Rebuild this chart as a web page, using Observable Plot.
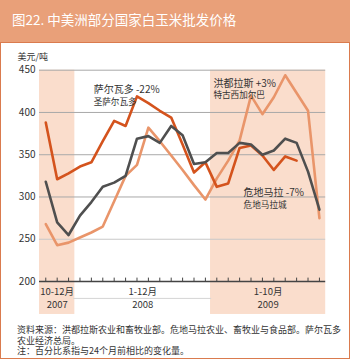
<!DOCTYPE html>
<html>
<head>
<meta charset="utf-8">
<script src="https://cdn.jsdelivr.net/npm/d3@7"></script>
<script src="https://cdn.jsdelivr.net/npm/@observablehq/plot@0.6"></script>
<style>
  html, body { margin: 0; padding: 0; background: #fff; }
  #wrap { position: relative; width: 350px; height: 360px; overflow: hidden; font-family: "Noto Sans CJK SC", "Noto Sans", sans-serif; }
  #hdr { position: absolute; left: 0; top: 0; width: 350px; height: 42px; background: #E9A079; }
  #title { position: absolute; left: 12px; top: 10px; color: #fff; font-size: 13.5px; line-height: 19px; white-space: nowrap; }
  #panel { position: absolute; left: 0; top: 42px; width: 350px; height: 317px; box-sizing: border-box; border: 1.5px solid #DA7B4E; }
  #chart { position: absolute; left: 0; top: 42px; }
  #cap { position: absolute; left: 17px; top: 325px; width: 330px; font-size: 9px; line-height: 10.6px; color: #333; white-space: nowrap; }
</style>
</head>
<body>
<div id="wrap">
  <div id="hdr"><div id="title">图22. 中美洲部分国家白玉米批发价格</div></div>
  <div id="panel"></div>
  <div id="chart"></div>
  <div id="cap">资料来源：洪都拉斯农业和畜牧业部。危地马拉农业、畜牧业与食品部。萨尔瓦多<br>农业经济总局。<br>注：百分比系指与24个月前相比的变化量。</div>
</div>
<script>
const months = ["2007-10","2007-11","2007-12","2008-01","2008-02","2008-03","2008-04","2008-05","2008-06","2008-07","2008-08","2008-09","2008-10","2008-11","2008-12","2009-01","2009-02","2009-03","2009-04","2009-05","2009-06","2009-07","2009-08","2009-09","2009-10"];
const honduras   = [268, 243, 246, 252, 258, 265, 295, 325, 338, 382, 366, 349, 332, 314, 297, 322, 343, 367, 420, 398, 418, 444, 423, 402, 275];
const elSalvador = [388, 321, 328, 336, 341, 366, 390, 384, 419, 411, 402, 394, 362, 329, 341, 312, 316, 358, 361, 349, 332, 348, 343];
const guatemala  = [318, 270, 255, 278, 294, 312, 317, 325, 369, 372, 364, 384, 373, 339, 341, 352, 352, 364, 362, 350, 355, 369, 364, 330, 285];
const yTicks = [200, 250, 300, 350, 400, 450];
const gridValues = [250, 300, 350, 400, 450];
const periodLabels = ["10-12月", "1-12月", "1-10月"];
const periodYears = ["2007", "2008", "2009"];
const periodFirst = ["2007-10", "2008-01", "2009-01"];
const periodLast = ["2007-12", "2008-12", "2009-10"];
const periodShaded = [true, false, true];
const seriesNames = ["萨尔瓦多 -22%", "洪都拉斯 +3%", "危地马拉 -7%"];
const seriesCities = ["圣萨尔瓦多", "特古西加尔巴", "危地马拉城"];
const unitLabel = "美元/吨";

const idx = m => months.indexOf(m);
const toRows = vals => vals.map((v, i) => ({i, v}));
const periods = periodLabels.map((label, k) => ({
  label, year: periodYears[k], a: idx(periodFirst[k]), b: idx(periodLast[k]), shaded: periodShaded[k]
}));

// label anchors (month index, value of first line, value of second line)
const labelAnchor = [[4.2, 426.5, 412], [14.7, 434.5, 419.8], [17.35, 304.5, 290.2]];
const nameRows = seriesNames.map((t, k) => ({t, x: labelAnchor[k][0], y: labelAnchor[k][1]}));
const cityRows = seriesCities.map((t, k) => ({t, x: labelAnchor[k][0], y: labelAnchor[k][2]}));

const font = "'Noto Sans CJK SC', 'Noto Sans', sans-serif";
const chart = Plot.plot({
  width: 350, height: 280,
  marginTop: 27.7, marginBottom: 41, marginLeft: 39, marginRight: 24.8,
  x: {type: "linear", domain: [-0.55, 24.55], axis: null},
  y: {domain: [200, 450], axis: null},
  style: {fontFamily: font, background: "transparent", color: "#333", overflow: "visible"},
  marks: [
    Plot.rect(periods.filter(d => d.shaded), {x1: d => d.a - 0.55, x2: d => d.b + 0.55, y1: 161, y2: 450, fill: "#FADDCC"}),
    Plot.ruleY(gridValues, {stroke: d => d === 250 ? "#c8c8c8" : "#a9a9a9", strokeWidth: 1}),
    Plot.ruleY([180], {x1: periods[1].a - 0.55, x2: periods[1].b + 0.55, stroke: "#d4d4d4", strokeWidth: 1}),
    Plot.line(toRows(honduras), {x: "i", y: "v", stroke: "#E9956A", strokeWidth: 2.6}),
    Plot.line(toRows(elSalvador), {x: "i", y: "v", stroke: "#D4531D", strokeWidth: 2.6}),
    Plot.line(toRows(guatemala), {x: "i", y: "v", stroke: "#4f4f4f", strokeWidth: 2.6}),
    Plot.ruleY([200], {stroke: "#444", strokeWidth: 1.5}),
    Plot.ruleX(d3.range(months.length), {y1: 200, y2: 204, stroke: "#444", strokeWidth: 1}),
    Plot.axisY({ticks: yTicks, tickSize: 0, tickPadding: 4, fontSize: 10, label: null, fill: "#333"}),
    Plot.text([unitLabel], {frameAnchor: "top-left", dx: -22, dy: -17, textAnchor: "start", fontSize: 9, fill: "#333"}),
    Plot.text(nameRows, {x: "x", y: "y", text: "t", textAnchor: "start", fontSize: 10, fill: "#333"}),
    Plot.text(cityRows, {x: "x", y: "y", text: "t", textAnchor: "start", fontSize: 8.6, fill: "#333"}),
    Plot.text(periods, {x: d => (d.a + d.b) / 2, y: 200, dy: 10, text: "label", fontSize: 9.5, fill: "#333"}),
    Plot.text(periods, {x: d => (d.a + d.b) / 2, y: 200, dy: 23, text: "year", fontSize: 9.5, fill: "#333"})
  ]
});
document.getElementById("chart").appendChild(chart);
</script>
</body>
</html>
